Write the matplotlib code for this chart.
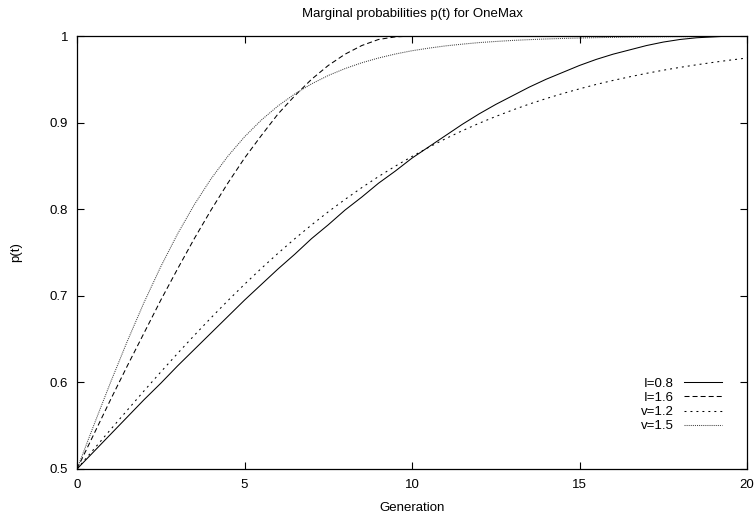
import matplotlib.pyplot as plt
import numpy as np

# generation axis, sampled every half generation
GEN = np.arange(0, 20.5, 0.5)

# values
P_I08 = [
    0.500, 0.520, 0.540, 0.560, 0.580, 0.599, 0.619, 0.638, 0.657, 0.676,
    0.695, 0.713, 0.731, 0.748, 0.766, 0.782, 0.799, 0.814, 0.830, 0.844,
    0.859, 0.872, 0.885, 0.898, 0.910, 0.921, 0.931, 0.941, 0.950, 0.958,
    0.966, 0.973, 0.979, 0.984, 0.989, 0.993, 0.996, 0.998, 0.999, 1.000,
    1.000,
]
P_I16 = [
    0.500, 0.540, 0.580, 0.619, 0.657, 0.695, 0.731, 0.766, 0.799, 0.830,
    0.859, 0.885, 0.910, 0.931, 0.950, 0.966, 0.979, 0.989, 0.996, 0.999,
    1.000, 1.000, 1.000, 1.000, 1.000, 1.000, 1.000, 1.000, 1.000, 1.000,
    1.000, 1.000, 1.000, 1.000, 1.000, 1.000, 1.000, 1.000, 1.000, 1.000,
    1.000,
]
P_V12 = [
    0.5000, 0.5228, 0.5455, 0.5679, 0.5902, 0.6120, 0.6334, 0.6543, 0.6746, 0.6943,
    0.7133, 0.7316, 0.7491, 0.7659, 0.7818, 0.7970, 0.8113, 0.8249, 0.8377, 0.8497,
    0.8609, 0.8715, 0.8814, 0.8906, 0.8992, 0.9071, 0.9145, 0.9214, 0.9277, 0.9336,
    0.9390, 0.9441, 0.9487, 0.9529, 0.9569, 0.9605, 0.9638, 0.9668, 0.9696, 0.9722,
    0.9746,
]
P_V15 = [
    0.5000, 0.5505, 0.6000, 0.6475, 0.6923, 0.7337, 0.7714, 0.8052, 0.8351, 0.8611,
    0.8836, 0.9029, 0.9193, 0.9331, 0.9447, 0.9544, 0.9624, 0.9691, 0.9746, 0.9792,
    0.9830, 0.9860, 0.9886, 0.9906, 0.9924, 0.9937, 0.9949, 0.9958, 0.9966, 0.9972,
    0.9977, 0.9981, 0.9985, 0.9988, 0.9990, 0.9992, 0.9993, 0.9994, 0.9996, 0.9996,
    0.9997,
]

X_TICKS = [0, 5, 10, 15, 20]
Y_TICKS = [0.5, 0.6, 0.7, 0.8, 0.9, 1.0]
Y_TICK_LABELS = ["0.5", "0.6", "0.7", "0.8", "0.9", "1"]


def main() -> None:
    plt.rcParams.update(
        {
            "font.family": ["Liberation Sans", "DejaVu Sans"],
            "font.size": 9.5,
            "lines.scale_dashes": False,
            "axes.linewidth": 0.9,
            "xtick.direction": "in",
            "ytick.direction": "in",
            "xtick.top": True,
            "ytick.right": True,
            "xtick.major.size": 5,
            "ytick.major.size": 5,
            "xtick.major.width": 0.8,
            "ytick.major.width": 0.8,
            "xtick.major.pad": 7,
            "ytick.major.pad": 6.5,
        }
    )

    fig = plt.figure(figsize=(7.56, 5.13), dpi=100)
    ax = fig.add_axes([0.1019, 0.0858, 0.8862, 0.8440])

    lw = 0.75
    ax.plot(GEN, P_I08, color="black", linewidth=lw, label="I=0.8")
    ax.plot(GEN, P_I16, color="black", linewidth=lw, dashes=(3.6, 2.2), label="I=1.6")
    ax.plot(GEN, P_V12, color="black", linewidth=lw, dashes=(1.4, 2.9), label="v=1.2")
    ax.plot(GEN, P_V15, color="#444444", linewidth=lw, dashes=(0.75, 0.75), label="v=1.5")

    ax.set_xlim(0, 20)
    ax.set_ylim(0.5, 1.0)
    ax.set_xticks(X_TICKS)
    ax.set_xticklabels([str(v) for v in X_TICKS])
    ax.set_yticks(Y_TICKS)
    ax.set_yticklabels(Y_TICK_LABELS)

    ax.set_title("Marginal probabilities p(t) for OneMax", fontsize=9.5, pad=13.5)
    ax.set_xlabel("Generation", labelpad=8)
    ax.set_ylabel("p(t)", labelpad=20)

    ax.legend(
        loc="center right",
        bbox_to_anchor=(0.963, 0.148),
        frameon=False,
        markerfirst=False,
        handlelength=2.9,
        handletextpad=0.75,
        labelspacing=0.15,
        borderpad=0,
        borderaxespad=0,
    )
    for txt in ax.get_legend().get_texts():
        txt.set_ha("right")

    fig.savefig("out.png", dpi=100)
    plt.close(fig)


if __name__ == "__main__":
    main()
